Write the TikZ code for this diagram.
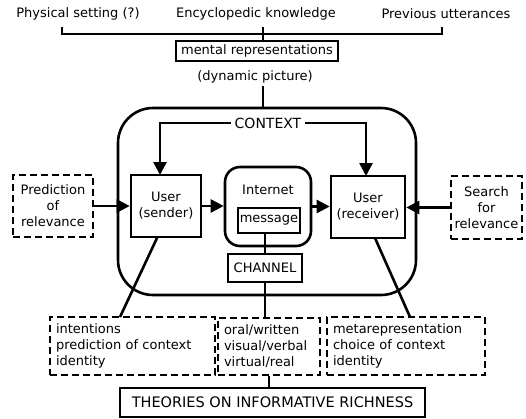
\documentclass[tikz,border=0pt]{standalone}
\usepackage{fontspec}
\setmainfont{DejaVu Sans}
\usetikzlibrary{arrows.meta}
\begin{document}
\begin{tikzpicture}[x=1pt,y=-1pt,
  ln/.style={line width=2.6pt},
  fnt/.style={font=\fontsize{13}{16}\selectfont},
  txt/.style={fnt, inner sep=2pt},
  solidbox/.style={draw, line width=2.6pt, inner sep=0pt, align=center, fnt},
  dashbox/.style={draw, line width=2.6pt, dash pattern=on 7pt off 4pt, inner sep=0pt, align=center, fnt},
  listbox/.style={dashbox, align=left, inner xsep=6pt, inner ysep=0pt},
  arr/.style={ln, -{Triangle[length=13pt,width=13pt]}}]
\useasboundingbox (0,0) rectangle (526,418);
% top texts
\node[txt] (phys) at (78,14) {Physical setting (?)};
\node[txt] (ency) at (256,14) {Encyclopedic knowledge};
\node[txt] (prev) at (446,14) {Previous utterances};
\node[solidbox, minimum width=162pt, minimum height=20pt] (mr) at (257,51) {mental representations};
\node[txt] (dyn) at (255,77) {(dynamic picture)};
% context frame
\node[draw, ln, rounded corners=35pt, minimum width=298pt, minimum height=187pt] (ctx) at (267,201.5) {};
\node[txt, inner xsep=4pt, font=\fontsize{14}{16}\selectfont] (context) at (268,123) {CONTEXT};
\node[solidbox, minimum width=70pt, minimum height=62pt] (sender) at (166,206) {User\\(sender)};
\node[draw, ln, rounded corners=15pt, minimum width=86pt, minimum height=79pt] (inet) at (268,206.5) {};
\node[txt] (inettxt) at (268,190) {Internet};
\node[solidbox, minimum width=62pt, minimum height=25pt] (msg) at (269,220.5) {message};
\node[solidbox, minimum width=74pt, minimum height=28pt] (chan) at (265,268) {CHANNEL};
\node[solidbox, minimum width=74pt, minimum height=62pt] (recv) at (368,207) {User\\(receiver)};
\node[dashbox, minimum width=80pt, minimum height=62pt] (pred) at (53,206) {Prediction\\of\\relevance};
\node[dashbox, minimum width=71pt, minimum height=63pt] (search) at (486.5,207.5) {Search\\for\\relevance};
% bottom boxes
\node[listbox, text width=153pt, minimum height=58pt] (lbox) at (132.5,346) {intentions\\prediction of context\\identity};
\node[listbox, text width=90pt, minimum height=57pt] (mbox) at (269,346.5) {oral/written\\visual/verbal\\virtual/real};
\node[listbox, text width=146pt, minimum height=58pt] (rbox) at (406,346) {metarepresentation\\choice of context\\identity};
\node[solidbox, minimum width=305pt, minimum height=29pt, font=\fontsize{14.5}{16}\selectfont] (theo) at (272.5,402.5) {THEORIES ON INFORMATIVE RICHNESS};
% coordinates
\coordinate (b1) at (62,27);
\coordinate (b2) at (442,27);
\coordinate (b3) at (263,27);
\coordinate (d1) at (263,86);
\coordinate (cl) at (160,175);
\coordinate (cr) at (366,176);
\coordinate (s1) at (157,238);
\coordinate (s2) at (120,317);
\coordinate (r1) at (375,238);
\coordinate (r2) at (410,317);
% connectors
\draw[ln] (b1) -- ++(0,7) -| (b2);
\draw[ln] (b3) -- (b3 |- mr.north);
\draw[ln] (d1) -- (d1 |- ctx.north);
\draw[arr] (context.west) -| (cl);
\draw[arr] (context.east) -| (cr);
\draw[arr] (sender.east) -- (sender.east -| inet.west);
\draw[arr] (inet.east) -- (inet.east -| recv.west);
\draw[arr] (pred.east) -- (pred.east -| sender.west);
\draw[arr] (search.west) -- (search.west -| recv.east);
\draw[ln] (chan.north) -- (chan.north |- msg.south);
\draw[ln] (chan.south) -- (chan.south |- mbox.north);
\draw[ln] (mbox.south) -- (mbox.south |- theo.north);
\draw[ln] (s1) -- (s2);
\draw[ln] (r1) -- (r2);
\end{tikzpicture}
\end{document}
